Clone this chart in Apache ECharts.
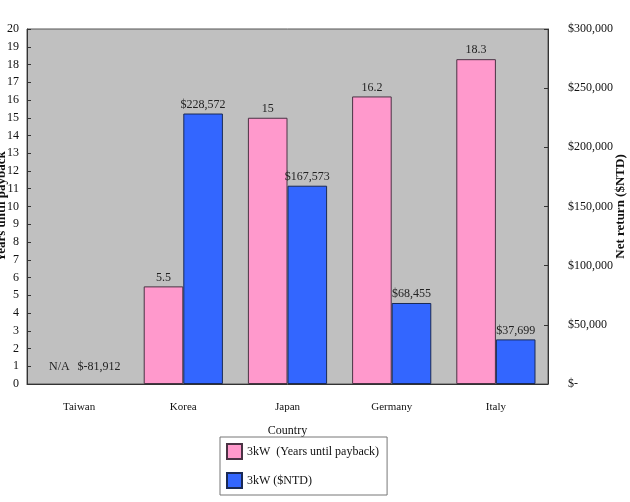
<!DOCTYPE html>
<html lang="en">
<head>
  <meta charset="utf-8" />
  <title>Payback and net return by country</title>
  <script src="https://cdn.jsdelivr.net/npm/echarts@6.0.0/dist/echarts.min.js"></script>
  <style>
    html, body { margin: 0; padding: 0; background: #fff; }
  </style>
</head>
<body>
  <div id="main" style="width: 630px;height:502px;"></div>
  <script>
    var countries = ['Taiwan', 'Korea', 'Japan', 'Germany', 'Italy'];
    // null = N/A
    var yearsPayback = [null, 5.5, 15, 16.2, 18.3];
    var netReturn = [-81912, 228572, 167573, 68455, 37699];
    var seriesNames = ['3kW  (Years until payback)', '3kW ($NTD)'];

    var font = 'Liberation Serif';

    function money(v) {
      if (v === 0) return '$-';
      return '$' + v.toLocaleString('en-US');
    }

    var chartDom = document.getElementById('main');
    var myChart = echarts.init(chartDom);

    // items with no bar: keep only the text label near the axis
    function noBar(text) {
      return {
        value: 0,
        itemStyle: { borderWidth: 0, color: 'rgba(0,0,0,0)' },
        label: { formatter: text, distance: 11 }
      };
    }

    var yearsData = yearsPayback.map(function (v) {
      return v === null ? noBar('N/A') : v;
    });
    // negative values fall below the axis, just print them at the bottom
    var returnData = netReturn.map(function (v) {
      return v < 0 ? noBar(money(v)) : v;
    });

    var option = {
      animation: false,
      textStyle: { fontFamily: font },
      grid: {
        left: 27,
        right: 82,
        top: 29,
        bottom: 118,
        outerBoundsMode: 'none',
        containLabel: false,
        show: true,
        backgroundColor: '#C0C0C0',
        borderColor: '#555',
        borderWidth: 1
      },
      legend: {
        orient: 'vertical',
        left: 220,
        top: 437,
        width: 152,
        icon: 'rect',
        itemWidth: 15,
        itemHeight: 15,
        itemGap: 12,
        padding: [6, 8, 6, 6],
        borderColor: '#777',
        borderWidth: 1,
        backgroundColor: '#fff',
        textStyle: { fontFamily: font, fontSize: 12, color: '#111' },
        data: seriesNames
      },
      xAxis: {
        type: 'category',
        data: countries,
        name: 'Country',
        nameLocation: 'middle',
        nameGap: 41,
        nameMoveOverlap: false,
        nameTextStyle: { fontFamily: font, fontSize: 12, color: '#111' },
        axisLine: { lineStyle: { color: '#333' } },
        axisTick: { length: 3, lineStyle: { color: '#333' } },
        axisLabel: { fontFamily: font, fontSize: 11, color: '#111', margin: 18 }
      },
      yAxis: [
        {
          type: 'value',
          min: 0,
          max: 20,
          interval: 1,
          name: 'Years until payback',
          nameLocation: 'middle',
          nameGap: 19,
          nameMoveOverlap: false,
          nameTextStyle: { fontFamily: font, fontSize: 13, fontWeight: 'bold', color: '#111' },
          axisLine: { show: true, lineStyle: { color: '#333' } },
          axisTick: { show: true, inside: true, length: 4, lineStyle: { color: '#333' } },
          axisLabel: { fontFamily: font, fontSize: 12, color: '#111', margin: 8 },
          splitLine: { show: false }
        },
        {
          type: 'value',
          min: 0,
          max: 300000,
          interval: 50000,
          name: 'Net return ($NTD)',
          nameLocation: 'middle',
          nameGap: 66,
          nameMoveOverlap: false,
          nameTextStyle: { fontFamily: font, fontSize: 13, fontWeight: 'bold', color: '#111' },
          axisLine: { show: true, lineStyle: { color: '#333' } },
          axisTick: { show: true, inside: true, length: 4, lineStyle: { color: '#333' } },
          axisLabel: { fontFamily: font, fontSize: 12, color: '#111', margin: 20, formatter: money },
          splitLine: { show: false }
        }
      ],
      series: [
        {
          name: seriesNames[0],
          type: 'bar',
          yAxisIndex: 0,
          data: yearsData,
          barGap: '0%',
          barCategoryGap: '24%',
          itemStyle: { color: '#FF99CC', borderColor: '#4a3344', borderWidth: 1 },
          label: {
            show: true,
            position: 'top',
            distance: 3,
            fontFamily: font,
            fontSize: 12,
            color: '#222'
          }
        },
        {
          name: seriesNames[1],
          type: 'bar',
          yAxisIndex: 1,
          data: returnData,
          itemStyle: { color: '#3366FF', borderColor: '#1a2a55', borderWidth: 1 },
          label: {
            show: true,
            position: 'top',
            distance: 3,
            fontFamily: font,
            fontSize: 12,
            color: '#222',
            formatter: function (p) { return money(p.value); }
          }
        }
      ]
    };
    myChart.setOption(option);
  </script>
</body>
</html>
